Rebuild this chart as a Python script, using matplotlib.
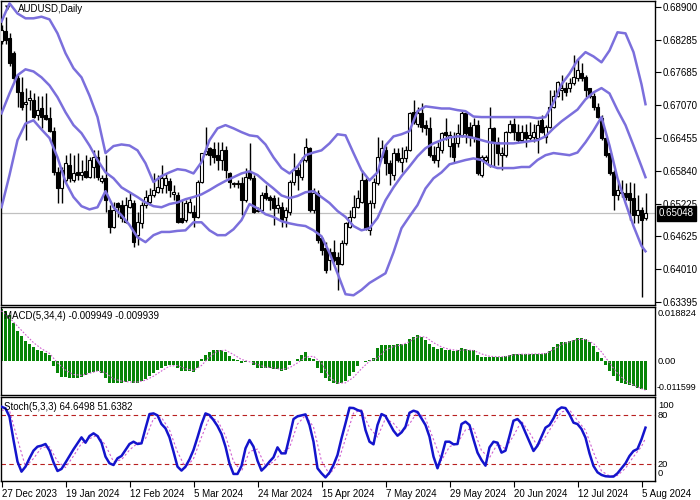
import matplotlib
matplotlib.use("Agg")
import matplotlib.pyplot as plt
import numpy as np

plt.rcParams['font.family'] = ['Liberation Sans', 'DejaVu Sans']

# ---------------- data ----------------
date_labels = ["27 Dec 2023", "19 Jan 2024", "12 Feb 2024", "5 Mar 2024", "24 Mar 2024",
               "15 Apr 2024", "7 May 2024", "29 May 2024", "20 Jun 2024", "12 Jul 2024", "5 Aug 2024"]
date_label_bars = [0, 16, 32, 48, 64, 80, 96, 112, 128, 144, 160]

opens = [0.6825,0.6845,0.6832,0.6804,0.6756,0.6730,0.6708,0.6715,0.6715,0.6687,
         0.6700,0.6687,0.6682,0.6659,0.6581,0.6551,0.6566,0.6594,0.6566,0.6581,
         0.6576,0.6583,0.6572,0.6591,0.6609,0.6565,0.6570,0.6510,0.6479,0.6524,
         0.6520,0.6488,0.6516,0.6524,0.6464,0.6486,0.6520,0.6525,0.6538,0.6544,
         0.6551,0.6557,0.6565,0.6540,0.6538,0.6496,0.6492,0.6507,0.6507,0.6498,
         0.6563,0.6615,0.6626,0.6624,0.6613,0.6604,0.6622,0.6579,0.6559,0.6561,
         0.6561,0.6529,0.6581,0.6570,0.6510,0.6510,0.6542,0.6535,0.6533,0.6514,
         0.6516,0.6498,0.6507,0.6563,0.6585,0.6572,0.6604,0.6626,0.6510,0.6542,
         0.6458,0.6440,0.6418,0.6433,0.6423,0.6410,0.6449,0.6479,0.6498,0.6516,
         0.6525,0.6566,0.6473,0.6524,0.6561,0.6609,0.6622,0.6598,0.6576,0.6618,
         0.6600,0.6607,0.6622,0.6693,0.6672,0.6691,0.6669,0.6663,0.6613,0.6604,
         0.6622,0.6656,0.6631,0.6635,0.6635,0.6650,0.6691,0.6665,0.6646,0.6669,
         0.6576,0.6604,0.6594,0.6663,0.6637,0.6613,0.6613,0.6656,0.6671,0.6656,
         0.6641,0.6656,0.6645,0.6646,0.6645,0.6678,0.6646,0.6665,0.6702,0.6724,
         0.6734,0.6738,0.6738,0.6747,0.6756,0.6767,0.6758,0.6738,0.6724,0.6702,
         0.6682,0.6645,0.6617,0.6581,0.6538,0.6544,0.6542,0.6542,0.6533,0.6501,
         0.6510,0.6496]
highs = [0.6855,0.6871,0.6840,0.6808,0.6762,0.6758,0.6738,0.6734,0.6728,0.6724,
         0.6724,0.6728,0.6702,0.6665,0.6591,0.6591,0.6613,0.6618,0.6613,0.6618,
         0.6604,0.6613,0.6609,0.6622,0.6622,0.6576,0.6613,0.6520,0.6525,0.6525,
         0.6529,0.6535,0.6542,0.6529,0.6507,0.6525,0.6548,0.6551,0.6579,0.6576,
         0.6594,0.6579,0.6570,0.6557,0.6544,0.6529,0.6529,0.6533,0.6520,0.6566,
         0.6618,0.6665,0.6628,0.6637,0.6637,0.6637,0.6631,0.6581,0.6563,0.6566,
         0.6572,0.6589,0.6635,0.6576,0.6516,0.6544,0.6557,0.6538,0.6538,0.6535,
         0.6525,0.6516,0.6566,0.6617,0.6591,0.6609,0.6645,0.6628,0.6551,0.6548,
         0.6460,0.6451,0.6440,0.6455,0.6433,0.6455,0.6488,0.6510,0.6538,0.6548,
         0.6585,0.6570,0.6529,0.6570,0.6646,0.6641,0.6631,0.6604,0.6626,0.6626,
         0.6628,0.6631,0.6693,0.6715,0.6702,0.6710,0.6678,0.6684,0.6631,0.6637,
         0.6656,0.6682,0.6659,0.6656,0.6672,0.6697,0.6693,0.6674,0.6682,0.6678,
         0.6613,0.6613,0.6702,0.6665,0.6646,0.6628,0.6659,0.6678,0.6682,0.6672,
         0.6669,0.6672,0.6674,0.6672,0.6678,0.6687,0.6669,0.6734,0.6734,0.6752,
         0.6762,0.6749,0.6756,0.6799,0.6793,0.6784,0.6762,0.6739,0.6728,0.6710,
         0.6687,0.6646,0.6618,0.6585,0.6566,0.6566,0.6561,0.6563,0.6561,0.6538,
         0.6516,0.6542]
lows = [0.6821,0.6821,0.6780,0.6752,0.6702,0.6697,0.6641,0.6697,0.6682,0.6678,
        0.6663,0.6678,0.6656,0.6576,0.6524,0.6524,0.6563,0.6563,0.6563,0.6566,
        0.6566,0.6570,0.6570,0.6570,0.6566,0.6561,0.6507,0.6468,0.6477,0.6498,
        0.6488,0.6486,0.6514,0.6442,0.6446,0.6477,0.6514,0.6520,0.6535,0.6542,
        0.6542,0.6542,0.6535,0.6529,0.6486,0.6486,0.6488,0.6505,0.6479,0.6496,
        0.6561,0.6613,0.6594,0.6598,0.6585,0.6585,0.6570,0.6551,0.6553,0.6551,
        0.6501,0.6525,0.6566,0.6505,0.6507,0.6507,0.6529,0.6510,0.6483,0.6505,
        0.6479,0.6479,0.6501,0.6557,0.6548,0.6566,0.6600,0.6507,0.6505,0.6449,
        0.6427,0.6394,0.6399,0.6414,0.6362,0.6408,0.6446,0.6477,0.6496,0.6514,
        0.6524,0.6473,0.6464,0.6514,0.6557,0.6607,0.6576,0.6557,0.6566,0.6600,
        0.6581,0.6600,0.6620,0.6672,0.6665,0.6656,0.6650,0.6609,0.6598,0.6591,
        0.6618,0.6641,0.6609,0.6598,0.6628,0.6646,0.6635,0.6631,0.6637,0.6576,
        0.6572,0.6600,0.6591,0.6591,0.6594,0.6585,0.6609,0.6654,0.6641,0.6635,
        0.6637,0.6628,0.6641,0.6637,0.6618,0.6654,0.6635,0.6663,0.6700,0.6721,
        0.6715,0.6724,0.6730,0.6743,0.6752,0.6752,0.6721,0.6719,0.6697,0.6682,
        0.6641,0.6609,0.6576,0.6510,0.6529,0.6535,0.6529,0.6492,0.6486,0.6486,
        0.6349,0.6492]
closes = [0.6847,0.6827,0.6784,0.6756,0.6730,0.6702,0.6713,0.6719,0.6684,0.6698,
          0.6684,0.6680,0.6659,0.6581,0.6551,0.6585,0.6598,0.6570,0.6579,0.6576,
          0.6581,0.6572,0.6604,0.6609,0.6572,0.6570,0.6529,0.6479,0.6510,0.6516,
          0.6496,0.6520,0.6529,0.6451,0.6488,0.6520,0.6535,0.6538,0.6548,0.6553,
          0.6570,0.6570,0.6548,0.6544,0.6488,0.6488,0.6524,0.6525,0.6498,0.6563,
          0.6617,0.6620,0.6613,0.6609,0.6604,0.6622,0.6585,0.6563,0.6561,0.6559,
          0.6529,0.6572,0.6570,0.6507,0.6509,0.6538,0.6533,0.6529,0.6514,0.6520,
          0.6492,0.6510,0.6563,0.6585,0.6576,0.6604,0.6628,0.6510,0.6542,0.6455,
          0.6436,0.6399,0.6433,0.6418,0.6410,0.6449,0.6486,0.6498,0.6516,0.6533,
          0.6566,0.6477,0.6524,0.6563,0.6609,0.6626,0.6598,0.6579,0.6618,0.6604,
          0.6607,0.6622,0.6691,0.6674,0.6691,0.6665,0.6663,0.6613,0.6604,0.6628,
          0.6654,0.6650,0.6650,0.6609,0.6654,0.6691,0.6654,0.6646,0.6669,0.6579,
          0.6609,0.6609,0.6663,0.6637,0.6617,0.6617,0.6656,0.6672,0.6656,0.6641,
          0.6656,0.6645,0.6650,0.6656,0.6669,0.6656,0.6665,0.6702,0.6724,0.6749,
          0.6738,0.6730,0.6747,0.6758,0.6771,0.6756,0.6734,0.6724,0.6702,0.6684,
          0.6645,0.6613,0.6579,0.6538,0.6548,0.6542,0.6535,0.6529,0.6501,0.6510,
          0.6492,0.65048]

# Bollinger bands, read every second bar (plus the last bar)
band_bars = list(range(0, 161, 2)) + [161]
bb_upper = [0.6862,0.6896,0.6877,0.6868,0.6868,0.6871,0.6866,0.6840,0.6803,0.6775,
            0.6758,0.6724,0.6684,0.6617,0.6630,0.6633,0.6631,0.6622,0.6598,0.6563,
            0.6574,0.6581,0.6587,0.6585,0.6579,0.6600,0.6641,0.6663,0.6669,0.6663,
            0.6656,0.6650,0.6648,0.6633,0.6609,0.6589,0.6579,0.6592,0.6613,0.6618,
            0.6622,0.6635,0.6652,0.6650,0.6617,0.6585,0.6566,0.6581,0.6631,0.6648,
            0.6652,0.6658,0.6695,0.6704,0.6702,0.6700,0.6700,0.6697,0.6695,0.6685,
            0.6684,0.6684,0.6684,0.6684,0.6684,0.6684,0.6684,0.6682,0.6684,0.6711,
            0.6745,0.6765,0.6790,0.6805,0.6797,0.6786,0.6808,0.6842,0.6840,0.6805,
            0.6745,0.6708]
bb_middle = [0.6691,0.6728,0.6762,0.6773,0.6769,0.6758,0.6743,0.6721,0.6693,0.6669,
             0.6654,0.6631,0.6604,0.6581,0.6570,0.6553,0.6544,0.6535,0.6525,0.6518,
             0.6516,0.6522,0.6525,0.6531,0.6535,0.6540,0.6548,0.6557,0.6565,0.6572,
             0.6579,0.6583,0.6576,0.6563,0.6551,0.6538,0.6533,0.6537,0.6544,0.6546,
             0.6535,0.6524,0.6509,0.6498,0.6481,0.6473,0.6477,0.6496,0.6529,0.6553,
             0.6574,0.6592,0.6611,0.6626,0.6635,0.6641,0.6646,0.6648,0.6648,0.6645,
             0.6641,0.6637,0.6635,0.6635,0.6635,0.6637,0.6639,0.6641,0.6648,0.6663,
             0.6676,0.6687,0.6698,0.6717,0.6730,0.6738,0.6728,0.6697,0.6669,0.6631,
             0.6592,0.6572]
bb_lower = [0.6516,0.6576,0.6641,0.6672,0.6678,0.6661,0.6645,0.6609,0.6563,0.6535,
            0.6518,0.6512,0.6516,0.6546,0.6516,0.6501,0.6483,0.6460,0.6451,0.6464,
            0.6470,0.6470,0.6472,0.6473,0.6488,0.6488,0.6473,0.6464,0.6464,0.6475,
            0.6492,0.6522,0.6514,0.6503,0.6498,0.6490,0.6486,0.6483,0.6481,0.6473,
            0.6462,0.6431,0.6393,0.6354,0.6352,0.6362,0.6375,0.6384,0.6393,0.6432,
            0.6477,0.6499,0.6520,0.6551,0.6570,0.6581,0.6596,0.6600,0.6604,0.6607,
            0.6604,0.6594,0.6589,0.6589,0.6589,0.6591,0.6591,0.6604,0.6613,0.6617,
            0.6615,0.6613,0.6618,0.6637,0.6659,0.6684,0.6631,0.6570,0.6524,0.6481,
            0.6444,0.6434]

macd_hist = [0.0180,0.0174,0.0162,0.0134,0.0105,0.0087,0.0070,0.0059,0.0051,0.0041,
             0.0036,0.0030,0.0024,-0.0016,-0.0039,-0.0053,-0.0053,-0.0056,-0.0056,-0.0056,
             -0.0053,-0.0048,-0.0041,-0.0037,-0.0034,-0.0039,-0.0056,-0.0074,-0.0074,-0.0074,
             -0.0076,-0.0072,-0.0068,-0.0076,-0.0076,-0.0068,-0.0060,-0.0051,-0.0041,-0.0031,
             -0.0022,-0.0016,-0.0014,-0.0012,-0.0022,-0.0034,-0.0034,-0.0034,-0.0037,-0.0022,
             0.0007,0.0024,0.0032,0.0039,0.0041,0.0041,0.0032,0.0018,0.0009,0.0005,
             -0.0005,-0.0002,0.0002,-0.0014,-0.0022,-0.0022,-0.0022,-0.0022,-0.0025,-0.0025,
             -0.0034,-0.0028,-0.0014,0.0001,0.0009,0.0021,0.0032,0.0013,0.0007,-0.0022,
             -0.0040,-0.0058,-0.0067,-0.0074,-0.0078,-0.0075,-0.0066,-0.0050,-0.0035,-0.0016,
             0.0003,-0.0002,0.0004,0.0012,0.0045,0.0056,0.0056,0.0057,0.0058,0.0059,
             0.0060,0.0062,0.0077,0.0086,0.0090,0.0085,0.0075,0.0062,0.0050,0.0044,
             0.0046,0.0041,0.0038,0.0036,0.0040,0.0046,0.0042,0.0040,0.0038,0.0024,
             0.0014,0.0016,0.0017,0.0014,0.0014,0.0015,0.0020,0.0024,0.0026,0.0026,
             0.0026,0.0025,0.0025,0.0026,0.0026,0.0026,0.0028,0.0035,0.0050,0.0062,
             0.0066,0.0067,0.0072,0.0075,0.0080,0.0082,0.0077,0.0068,0.0055,0.0033,
             0.0013,-0.0012,-0.0032,-0.0052,-0.0068,-0.0075,-0.0079,-0.0082,-0.0086,-0.0092,
             -0.0096,-0.009949]
macd_signal = [0.0175,0.0151,0.0122,0.0093,0.0065,0.0044,0.0028,-0.0005,-0.0030,-0.0045,
               -0.0048,-0.0041,-0.0033,-0.0039,-0.0060,-0.0068,-0.0071,-0.0071,-0.0065,-0.0051,
               -0.0033,-0.0016,-0.0014,-0.0025,-0.0031,-0.0014,0.0016,0.0036,0.0039,0.0024,
               0.0007,-0.0001,-0.0010,-0.0020,-0.0022,-0.0028,-0.0022,-0.0005,0.0015,0.0018,
               -0.0005,-0.0055,-0.0075,-0.0074,-0.0055,-0.0025,0.0001,0.0012,0.0039,0.0052,
               0.0057,0.0068,0.0085,0.0085,0.0065,0.0050,0.0042,0.0038,0.0040,0.0038,
               0.0026,0.0018,0.0016,0.0017,0.0023,0.0025,0.0025,0.0026,0.0027,0.0041,
               0.0059,0.0068,0.0076,0.0076,0.0062,0.0033,-0.0005,-0.0041,-0.0068,-0.0082,
               -0.0094,-0.009939]

stoch_main = [90.1,88.1,78.0,49.6,23.2,11.0,17.1,27.3,36.6,41.5,
              42.7,44.7,36.6,22.4,11.8,14.3,22.0,30.1,38.2,45.5,
              52.8,46.3,54.4,57.7,54.4,46.3,29.3,21.2,19.1,27.3,
              30.1,37.4,44.7,47.5,44.7,45.5,63.8,81.2,82.0,79.6,
              69.0,63.8,52.8,35.4,17.1,12.3,17.1,26.0,37.4,52.8,
              69.0,82.0,80.0,73.9,66.6,56.9,41.5,20.8,8.2,8.2,
              17.9,39.4,49.6,41.5,24.4,12.3,17.1,23.2,28.5,40.6,
              33.3,33.3,53.6,75.1,78.4,79.6,80.8,67.8,47.5,15.1,
              9.0,4.0,9.8,19.1,31.3,51.6,69.9,88.9,88.5,86.1,
              84.5,61.7,47.5,44.3,67.8,81.2,78.8,69.9,60.9,54.8,
              58.9,65.8,82.8,85.3,83.7,75.9,67.8,53.6,29.3,15.1,
              29.3,47.5,47.5,44.3,44.7,69.0,71.9,67.8,50.4,34.2,
              25.2,18.3,40.6,47.5,46.3,34.2,36.6,54.4,73.1,75.1,
              69.9,58.5,47.5,36.2,42.7,53.6,64.6,67.8,75.9,86.1,
              89.3,88.5,80.8,70.7,69.0,63.0,52.4,33.3,17.9,10.2,
              7.0,5.4,5.0,5.0,9.0,15.1,21.2,30.1,36.2,38.6,
              50.4,64.6498]
stoch_signal = [86.0,85.4,50.3,17.1,27.0,40.3,41.3,23.6,16.0,30.1,
                45.5,51.2,55.5,43.3,23.2,25.5,37.4,45.6,51.3,75.7,
                76.9,61.9,35.1,15.5,26.8,53.1,77.0,73.5,55.0,23.5,
                11.4,35.6,38.5,17.9,22.9,34.1,40.1,69.0,79.6,65.4,
                23.9,7.6,20.1,50.9,82.4,86.4,64.6,53.2,75.9,69.9,
                58.2,69.2,83.9,75.8,50.2,24.6,41.4,45.5,61.9,63.4,
                36.6,28.0,44.8,39.0,54.7,72.7,58.6,42.1,53.6,69.4,
                83.8,86.2,73.5,61.5,34.5,11.7,5.8,6.3,15.1,29.2,
                41.7,51.6382]

price_ticks = [0.68900, 0.68285, 0.67685, 0.67070, 0.66455, 0.65840, 0.65225, 0.64625, 0.64010, 0.63395]
last_price = 0.65048

# ---------------- styles ----------------
W, H = 700, 500
FS = 7
RFS = 6.7
band_col = '#7b6fdc'
hist_col = '#078507'
sig_col = '#d060d0'
stoch_col = '#1414cc'
level_col = '#b82020'

fig = plt.figure(figsize=(7, 5), dpi=100)
fig.patch.set_facecolor('white')

def add_panel(top_px, bottom_px):
    return fig.add_axes([0.5 / W, (H - bottom_px) / H, 654 / W, (bottom_px - top_px) / H])

ax_p = add_panel(0.5, 305)
ax_m = add_panel(307, 395)
ax_s = add_panel(397, 481)

n = len(closes)
xs = np.arange(n)
for ax in (ax_p, ax_m, ax_s):
    ax.set_xlim(-0.25, 163.25)
    for sp in ax.spines.values():
        sp.set_color('black')
        sp.set_linewidth(1.0)
    ax.set_facecolor('white')

# ---------------- price panel ----------------
ax_p.set_ylim(0.63339, 0.69012)
ax_p.axhline(last_price, color='#c0c0c0', lw=0.9, zorder=0)

o = np.array(opens); c = np.array(closes); h = np.array(highs); l = np.array(lows)
ax_p.vlines(xs, l, h, color='black', lw=1.0, zorder=2)
up = c >= o
body_bottom = np.minimum(o, c)
body_height = np.abs(c - o)
ax_p.bar(xs[up], body_height[up], bottom=body_bottom[up], width=0.72,
         facecolor='white', edgecolor='black', linewidth=0.8, zorder=3)
ax_p.bar(xs[~up], body_height[~up], bottom=body_bottom[~up], width=0.72,
         facecolor='black', edgecolor='black', linewidth=0.8, zorder=3)

ax_p.plot(band_bars, bb_upper, color=band_col, lw=1.8, zorder=4)
ax_p.plot(band_bars, bb_middle, color=band_col, lw=1.8, zorder=4)
ax_p.plot(band_bars, bb_lower, color=band_col, lw=1.8, zorder=4)

ax_p.set_xticks([])
ax_p.yaxis.tick_right()
ax_p.set_yticks(price_ticks)
ax_p.set_yticklabels([f"{v:.5f}" for v in price_ticks])
ax_p.tick_params(axis='y', direction='out', length=4, width=0.8, pad=2, labelsize=FS, colors='black')

ax_p.text(1 + 4.5 / 654, last_price, f"{last_price:.5f}", transform=ax_p.get_yaxis_transform(),
          ha='left', va='center', fontsize=FS, color='white', zorder=10, clip_on=False,
          bbox=dict(boxstyle='square,pad=0.25', facecolor='black', edgecolor='black'))

ax_p.text(4 / 654, 1 - 8 / 305, "\u25bc", transform=ax_p.transAxes, ha='left', va='center',
          fontsize=5, family=['DejaVu Sans'], color='black')
ax_p.text(17 / 654, 1 - 9 / 305, "AUDUSD,Daily", transform=ax_p.transAxes, ha='left', va='center',
          fontsize=FS, color='black')

# ---------------- MACD panel ----------------
ax_m.set_ylim(-0.011599, 0.018824)
ax_m.bar(xs, macd_hist, width=0.72, color=hist_col, zorder=2)
ax_m.plot(band_bars, macd_signal, color=sig_col, lw=0.8, linestyle=(0, (1.5, 1.5)), zorder=3)
ax_m.set_xticks([])
ax_m.set_yticks([])
ax_m.text(3 / 654, 1 - 9 / 88, f"MACD(5,34,4) {macd_hist[-1]:.6f} {macd_signal[-1]:.6f}",
          transform=ax_m.transAxes, ha='left', va='center', fontsize=FS, color='black', zorder=10)
rx = 1 + 3.5 / 654
ax_m.text(rx, 1 - 7 / 88, "0.018824", transform=ax_m.transAxes, ha='left', va='center',
          fontsize=RFS, clip_on=False)
ax_m.text(rx, 0.0, "0.00", transform=ax_m.get_yaxis_transform(), ha='left', va='center',
          fontsize=RFS, clip_on=False)
ax_m.text(1 + 2 / 654, 7 / 88, "-0.011599", transform=ax_m.transAxes, ha='left', va='center',
          fontsize=RFS - 0.3, clip_on=False)

# ---------------- Stochastic panel ----------------
ax_s.set_ylim(-0.4, 102)
for lev in (20, 80):
    ax_s.axhline(lev, color=level_col, lw=0.8, linestyle=(0, (4, 3)), zorder=1)
ax_s.plot(band_bars, stoch_signal, color=sig_col, lw=0.8, linestyle=(0, (2, 2)), zorder=2)
ax_s.plot(xs, stoch_main, color=stoch_col, lw=1.8, zorder=3)
ax_s.set_yticks([])
ax_s.text(4 / 654, 1 - 10 / 84, f"Stoch(5,3,3) {stoch_main[-1]:.4f} {stoch_signal[-1]:.4f}",
          transform=ax_s.transAxes, ha='left', va='center', fontsize=FS, color='black', zorder=10)
ax_s.text(rx, 1 - 8 / 84, "100", transform=ax_s.transAxes, ha='left', va='center', fontsize=RFS, clip_on=False)
ax_s.text(rx, 80, "80", transform=ax_s.get_yaxis_transform(), ha='left', va='center', fontsize=RFS, clip_on=False)
ax_s.text(rx, 20, "20", transform=ax_s.get_yaxis_transform(), ha='left', va='center', fontsize=RFS, clip_on=False)
ax_s.text(rx, 7 / 84, "0", transform=ax_s.transAxes, ha='left', va='center', fontsize=RFS, clip_on=False)

ax_s.set_xticks(date_label_bars)
ax_s.set_xticklabels(date_labels)
ax_s.tick_params(axis='x', direction='out', length=4, width=0.8, pad=2, labelsize=FS, colors='black')
for lab in ax_s.get_xticklabels():
    lab.set_horizontalalignment('left')

fig.savefig("out.png", dpi=100, facecolor='white')
